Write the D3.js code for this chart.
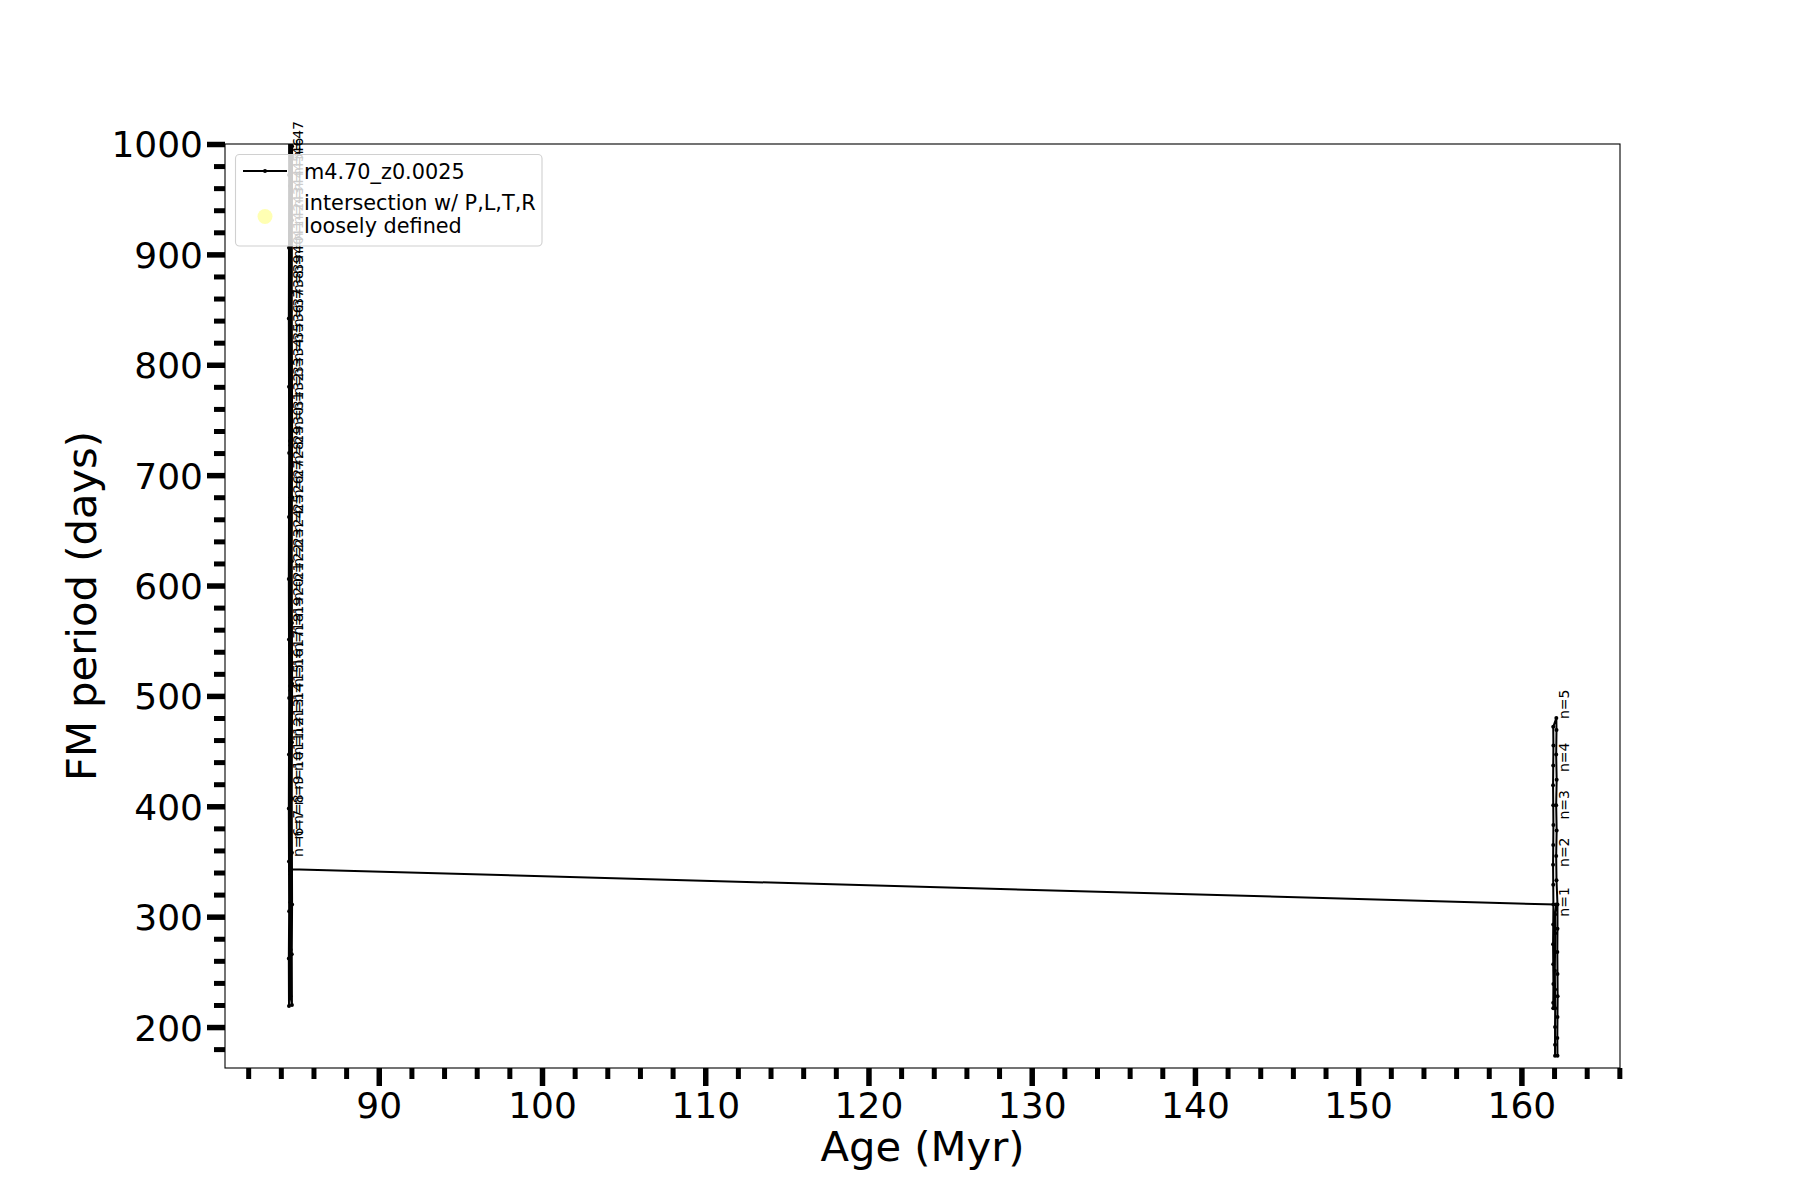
<!DOCTYPE html>
<html><head><meta charset="utf-8">
<script src="https://cdn.jsdelivr.net/npm/d3@7"></script>
<style>body{margin:0;background:#fff}svg text{font-family:"DejaVu Sans",sans-serif}</style>
</head><body><svg id="c" width="1800" height="1200"></svg>
<script>
// ---- data: evolutionary track (age in Myr, FM period in days) ----
const leftAge = [
  84.50,84.49,84.51,84.50,84.49,84.50,84.51,84.50,84.49,84.50,84.51,84.50,84.49,84.50,84.51,84.50,
  84.59,84.58,84.60,84.59,84.58,84.59,84.60,84.59,84.58,84.59,84.60,84.59,84.58,84.59,84.60,84.59,
  84.68,84.67,84.69,84.68,84.67,84.68,84.69,84.68,84.67,84.68,84.69,84.68,84.67,84.68,84.69,84.68,
  84.58,84.57,84.59,84.58,84.57,84.58,84.59,84.58,84.57,84.58,84.58];
const leftPeriod = [
  219,262,305,350,398,447,498,551,606,662,720,780,842,906,972,1040,
  1030,975,911,848,787,727,669,613,558,505,454,405,358,313,270,228,
  220,266,311,358,407,458,511,566,622,680,740,802,866,931,998,1040,
  1032,962,884,807,731,656,582,509,437,367,343];
const rightAge = [162.13,
  162.06,162.07,162.06,162.05,162.06,162.07,162.06,162.06,162.06,
  162.21,162.20,162.21,162.22,162.21,162.20,162.21,162.21,
  162.15,162.13,162.16,162.13,162.16,162.13,162.15,162.14,
  161.95,161.96,161.95,161.94,161.95,161.96,161.95,161.94,161.95,161.96,161.95,161.94,161.95,161.96,161.95,161.95];
const rightPeriod = [311,
  302,285,268,251,234,217,200,184,174,
  174,190,209,228,248,268,289,311,
  333,355,378,401,424,447,469,480,
  472,455,437,419,401,383,365,347,329,311,293,275,257,239,222,217];

const leftLabelText = ["n=6","n=7","n=8","n=9","n=10","n=11","n=12","n=13","n=14","n=15","n=16","n=17","n=18","n=19","n=20","n=21","n=22","n=23","n=24","n=25","n=26","n=27","n=28","n=29","n=30","n=31","n=32","n=33","n=34","n=35","n=36","n=37","n=38","n=39","n=40","n=41","n=42","n=43","n=44","n=45","n=46","n=47"];
const leftLabelPeriod = [354,370,384,401,415,432,446,463,477,494,508,525,540,555,572,586,603,617,634,648,665,679,696,710,727,741,758,772,789,803,820,834,851,865,882,896,912,927,942,957,971,986];
const leftLabelAge = 84.59;
const rightLabelText = ["n=1","n=2","n=3","n=4","n=5"];
const rightLabelPeriod = [300,345,388,431,479];
const rightLabelAge = 162.13;

const xMajor = [90,100,110,120,130,140,150,160];
const yMajor = [200,300,400,500,600,700,800,900,1000];
const seriesName = "m4.70_z0.0025";
const markerLegend = ["intersection w/ P,L,T,R","loosely defined"];

// ---- layout ----
const M = {left:225, right:1620, top:144, bottom:1068};
const svg = d3.select("#c");
const x = d3.scaleLinear().domain([80.58,166.04]).range([M.left,M.right]);
const y = d3.scaleLinear().domain([162.9,1000]).range([M.bottom,M.top]);

const xMinor = d3.range(82,167,2).filter(v=>v%10!==0);
const yMinor = d3.range(180,1000,20).filter(v=>v%100!==0);

function styleAxis(g, w){
  g.select(".domain").remove();
  g.selectAll(".tick line").attr("stroke","#000").attr("stroke-width",w);
  g.selectAll(".tick text").attr("fill","#000").style("font-size","36px").style("font-family","DejaVu Sans");
}
svg.append("g").attr("transform",`translate(0,${M.bottom})`)
  .call(d3.axisBottom(x).tickValues(xMinor).tickSize(11).tickFormat(""))
  .call(g=>styleAxis(g,5));
svg.append("g").attr("transform",`translate(0,${M.bottom})`)
  .call(d3.axisBottom(x).tickValues(xMajor).tickSize(18).tickPadding(6).tickFormat(d3.format("d")))
  .call(g=>styleAxis(g,5.5));
svg.append("g").attr("transform",`translate(${M.left},0)`)
  .call(d3.axisLeft(y).tickValues(yMinor).tickSize(11).tickFormat(""))
  .call(g=>styleAxis(g,5));
svg.append("g").attr("transform",`translate(${M.left},0)`)
  .call(d3.axisLeft(y).tickValues(yMajor).tickSize(18).tickPadding(4).tickFormat(d3.format("d")))
  .call(g=>{styleAxis(g,5.5); g.selectAll(".tick text").attr("dy","0.36em");});

// ---- track ----
svg.append("clipPath").attr("id","clip").append("rect")
  .attr("x",M.left).attr("y",M.top).attr("width",M.right-M.left).attr("height",M.bottom-M.top);
const track = leftAge.map((a,i)=>({a,p:leftPeriod[i]})).concat(rightAge.map((a,i)=>({a,p:rightPeriod[i]})));
const gData = svg.append("g").attr("clip-path","url(#clip)");
gData.append("path").datum(track)
  .attr("d", d3.line().x(d=>x(d.a)).y(d=>y(d.p)))
  .attr("fill","none").attr("stroke","#000").attr("stroke-width",2).attr("stroke-linejoin","round");
gData.selectAll("circle").data(track).join("circle")
  .attr("cx",d=>x(d.a)).attr("cy",d=>y(d.p)).attr("r",2).attr("fill","#000");

// ---- annotations ----
const labels = leftLabelText.map((t,i)=>({t,a:leftLabelAge,p:leftLabelPeriod[i]}))
  .concat(rightLabelText.map((t,i)=>({t,a:rightLabelAge,p:rightLabelPeriod[i]})));
svg.append("g").selectAll("text").data(labels).join("text")
  .attr("transform",d=>`translate(${x(d.a)+13},${y(d.p)}) rotate(-90)`)
  .style("font-size","14px").attr("fill","#000").text(d=>d.t);

// ---- frame ----
svg.append("rect").attr("x",M.left).attr("y",M.top).attr("width",M.right-M.left).attr("height",M.bottom-M.top)
  .attr("fill","none").attr("stroke","#000").attr("stroke-width",1.1);

// ---- axis labels ----
svg.append("text").attr("x",(M.left+M.right)/2).attr("y",1161).attr("text-anchor","middle")
  .style("font-size","41.7px").text("Age (Myr)");
svg.append("text").attr("transform",`translate(96,${(M.top+M.bottom)/2}) rotate(-90)`).attr("text-anchor","middle")
  .style("font-size","41.7px").text("FM period (days)");

// ---- legend ----
const lg = svg.append("g");
lg.append("rect").attr("x",235.5).attr("y",154.5).attr("width",306.5).attr("height",91.5).attr("rx",4)
  .attr("fill","#fff").attr("fill-opacity",0.8).attr("stroke","#d0d0d0").attr("stroke-width",1.1);
lg.append("line").attr("x1",243).attr("x2",287).attr("y1",171).attr("y2",171).attr("stroke","#000").attr("stroke-width",2);
lg.append("circle").attr("cx",265).attr("cy",171).attr("r",2).attr("fill","#000");
lg.append("text").attr("x",304).attr("y",178.5).style("font-size","20.8px").text(seriesName);
lg.append("circle").attr("cx",265).attr("cy",216.5).attr("r",7.5).attr("fill","#ffffb3");
lg.selectAll("text.m").data(markerLegend).join("text").attr("class","m")
  .attr("x",304).attr("y",(d,i)=>209.5+i*23).style("font-size","20.8px").text(d=>d);
</script></body></html>
